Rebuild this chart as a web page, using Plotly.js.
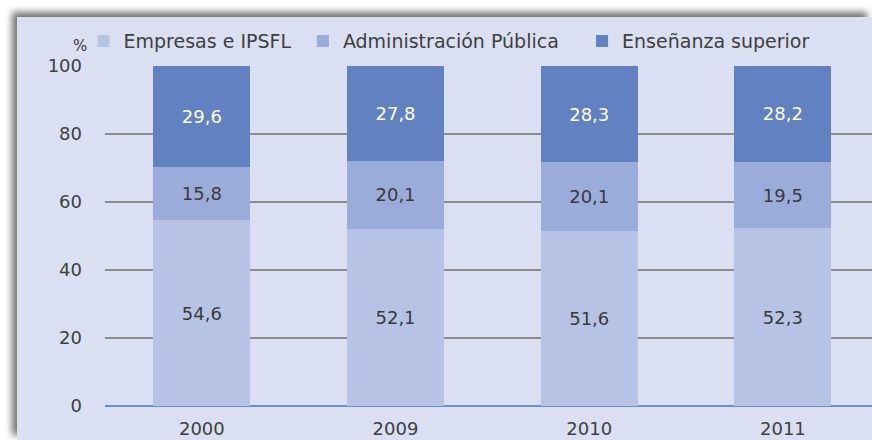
<!DOCTYPE html>
<html>
<head>
<meta charset="utf-8">
<script src="https://cdn.plot.ly/plotly-3.0.1.min.js"></script>
<style>
  html, body { margin: 0; padding: 0; background: #ffffff; width: 872px; height: 440px; overflow: hidden; }
  #frame { position: absolute; left: 17px; top: 17px; width: 855px; height: 423px;
           box-shadow: -5px -5px 7px rgba(0,0,0,0.55); background: #dadff1; }
  #chart { width: 855px; height: 423px; }
</style>
</head>
<body>
<div id="frame"><div id="chart"></div></div>
<script>
const years = ['2000', '2009', '2010', '2011'];
const empresas = [54.6, 52.1, 51.6, 52.3];
const administracion = [15.8, 20.1, 20.1, 19.5];
const ensenanza = [29.6, 27.8, 28.3, 28.2];
const seriesNames = ['Empresas e IPSFL', 'Administración Pública', 'Enseñanza superior'];
const yTicks = [0, 20, 40, 60, 80, 100];

const FONT = 'DejaVu Sans, sans-serif';
const TXT = '#404040';

function bar(name, vals, color, textColor, legendId) {
  return {
    type: 'bar', name: name, x: years, y: vals, width: 0.5,
    legend: legendId,
    marker: { color: color, line: { width: 0 } },
    texttemplate: '%{y:.1f}', textposition: 'inside', insidetextanchor: 'middle',
    textangle: 0, constraintext: 'none',
    insidetextfont: { family: FONT, size: 18, color: textColor },
    hoverinfo: 'skip'
  };
}

const data = [
  bar(seriesNames[0], empresas, '#b7c3e4', '#3a3a3a', 'legend'),
  bar(seriesNames[1], administracion, '#9aadda', '#3a3a3a', 'legend2'),
  bar(seriesNames[2], ensenanza, '#6281c0', '#ffffff', 'legend3')
];

function leg(x) {
  return {
    orientation: 'h', x: x, xanchor: 'left', y: 1.073, yanchor: 'middle',
    bgcolor: 'rgba(0,0,0,0)', font: { family: FONT, size: 19, color: TXT },
    itemclick: false, itemdoubleclick: false
  };
}

const layout = {
  width: 855, height: 423,
  margin: { l: 88, r: 0, t: 49, b: 34 },
  paper_bgcolor: '#dadff1', plot_bgcolor: '#dadff1',
  separators: ',.',
  barmode: 'stack',
  font: { family: FONT, size: 18, color: TXT },
  showlegend: true,
  legend: leg(-0.028),
  legend2: leg(0.258),
  legend3: leg(0.622),
  xaxis: {
    type: 'category', range: [-0.5, 3.46], showgrid: false, zeroline: false,
    showline: false, ticks: '', ticklabelstandoff: 10,
    tickfont: { family: FONT, size: 18, color: TXT }, fixedrange: true
  },
  yaxis: {
    range: [0, 100], tickvals: yTicks, ticktext: yTicks.map(String),
    showgrid: true, gridcolor: '#8c8c8c', gridwidth: 2,
    zeroline: true, zerolinecolor: '#6e8fcf', zerolinewidth: 2,
    showline: false, ticks: '', ticklabelstandoff: 22,
    tickfont: { family: FONT, size: 18, color: TXT }, fixedrange: true
  },
  annotations: [{
    text: '%', xref: 'paper', yref: 'paper', x: -0.033, y: 1.06,
    xanchor: 'center', yanchor: 'middle', showarrow: false,
    font: { family: FONT, size: 15, color: TXT }
  }],
  hovermode: false
};

Plotly.newPlot('chart', data, layout, { displayModeBar: false, staticPlot: true });
</script>
</body>
</html>
